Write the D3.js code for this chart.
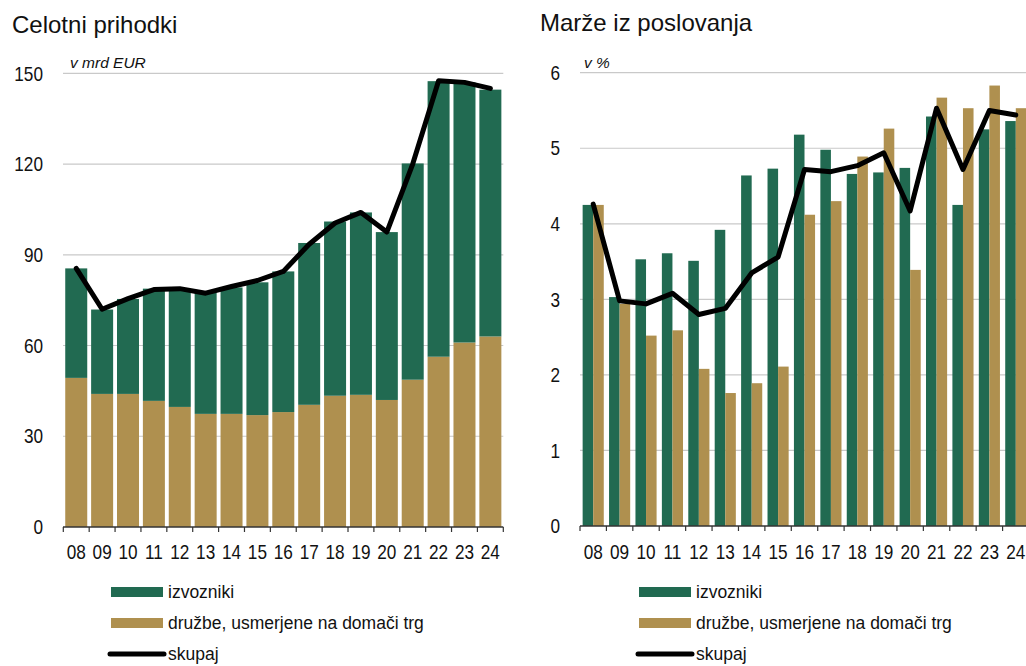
<!DOCTYPE html>
<html><head><meta charset="utf-8">
<script src="https://cdn.jsdelivr.net/npm/d3@7"></script>
<style>
body{margin:0;background:#fff;}
svg{display:block;}
.tick-lbl{font-family:"Liberation Sans",Arial,sans-serif;font-size:20px;fill:#111;}
.title{font-family:"Liberation Sans",Arial,sans-serif;font-size:24px;fill:#111;}
.unit{font-family:"Liberation Sans",Arial,sans-serif;font-size:15.5px;font-style:italic;fill:#111;}
.leg{font-family:"Liberation Sans",Arial,sans-serif;font-size:17.5px;fill:#111;}
</style></head>
<body><svg id="c" width="1026" height="666"></svg>
<script>
const years = ["08","09","10","11","12","13","14","15","16","17","18","19","20","21","22","23","24"];
// Celotni prihodki (v mrd EUR)
const revDomestic = [49.3,44.0,44.0,41.7,39.7,37.4,37.4,37.0,38.0,40.4,43.4,43.7,42.0,48.7,56.3,61.0,63.0];
const revTotal    = [85.5,71.9,75.4,78.8,78.6,77.6,79.2,80.9,84.5,93.9,101.0,104.0,97.5,120.2,147.4,147.0,144.6];
const revExporters = revTotal.map((t,i)=>+(t-revDomestic[i]).toFixed(1));
const revLine     = [85.5,72.0,75.5,78.5,78.8,77.3,79.5,81.5,84.5,93.5,100.5,104.0,97.5,120.0,147.5,147.0,145.0];
const revTicks = [0,30,60,90,120,150];
// Marže iz poslovanja (v %)
const marExporters = [4.25,3.03,3.53,3.61,3.51,3.92,4.64,4.73,5.18,4.98,4.66,4.68,4.74,5.42,4.25,5.25,5.36];
const marDomestic  = [4.25,2.94,2.52,2.59,2.08,1.76,1.89,2.11,4.12,4.30,4.89,5.26,3.39,5.67,5.53,5.83,5.53];
const marTotal     = [4.26,2.98,2.94,3.08,2.80,2.88,3.35,3.56,4.72,4.69,4.77,4.94,4.17,5.53,4.72,5.50,5.44];
const marTicks = [0,1,2,3,4,5,6];
const legendLabels = ["izvozniki","družbe, usmerjene na domači trg","skupaj"];

const GREEN = "#216a51", TAN = "#af904f", GRID = "#c9c9c9";
const NARROW = 0.86;
const svg = d3.select("#c");

function frame(g, x, y, ticks, x0, x1){
  g.append("g").selectAll("line").data(ticks.filter(t=>t!==0)).join("line")
    .attr("x1",x0).attr("x2",x1).attr("y1",d=>y(d)).attr("y2",d=>y(d))
    .attr("stroke",GRID).attr("stroke-width",1.2);
}
function axes(g, x, y, ticks, x0, x1, labelX){
  g.append("g").selectAll("text").data(ticks).join("text").attr("class","tick-lbl")
    .attr("transform",d=>`translate(${labelX},${y(d)}) scale(${NARROW},1)`)
    .attr("dy","0.36em").attr("text-anchor","end").text(d=>d);
  const y0 = y(0);
  g.append("line").attr("x1",x0).attr("x2",x1).attr("y1",y0).attr("y2",y0).attr("stroke","#333").attr("stroke-width",1.3);
  const bounds = years.map(d=>x(d)).concat([x(years[years.length-1])+x.step()]);
  g.append("g").selectAll("line").data(bounds).join("line")
    .attr("x1",d=>d).attr("x2",d=>d).attr("y1",y0).attr("y2",y0+5).attr("stroke","#333").attr("stroke-width",1.2);
  g.append("g").selectAll("text").data(years).join("text").attr("class","tick-lbl")
    .attr("transform",d=>`translate(${x(d)+x.step()/2},559) scale(${NARROW},1)`)
    .attr("text-anchor","middle").text(d=>d);
}
function legend(g, lx, ly){
  const cols=[GREEN,TAN];
  [0,1].forEach(i=>{
    g.append("rect").attr("x",lx).attr("y",ly+i*31-5).attr("width",52).attr("height",10).attr("fill",cols[i]);
  });
  g.append("line").attr("x1",lx-1).attr("x2",lx+53).attr("y1",ly+62).attr("y2",ly+62)
    .attr("stroke","#000").attr("stroke-width",5).attr("stroke-linecap","round");
  legendLabels.forEach((t,i)=>{
    g.append("text").attr("class","leg").attr("x",lx+57).attr("y",ly+i*31+6).text(t);
  });
}

// ---------- Left chart ----------
{
  const g = svg.append("g");
  const x = d3.scaleBand().domain(years).range([63.3,503.3]).padding(0);
  const xb = d3.scaleBand().domain(years).range([63.3,503.3]).paddingInner(0.15).paddingOuter(0.075);
  const y = d3.scaleLinear().domain([0,150]).range([527,73.3]);
  frame(g,x,y,revTicks,63,503.3);
  const stack = d3.stack().keys(["dom","exp"])(years.map((d,i)=>({year:d,dom:revDomestic[i],exp:revExporters[i]})));
  const cols = [TAN,GREEN];
  stack.forEach((s,k)=>{
    g.append("g").selectAll("rect").data(s).join("rect")
      .attr("x",d=>xb(d.data.year)).attr("width",xb.bandwidth())
      .attr("y",d=>y(d[1])).attr("height",d=>y(d[0])-y(d[1])).attr("fill",cols[k]);
  });
  axes(g,x,y,revTicks,63,503.3,43);
  g.append("path").datum(revLine).attr("fill","none").attr("stroke","#000").attr("stroke-width",5)
    .attr("stroke-linejoin","round").attr("stroke-linecap","round")
    .attr("d",d3.line().x((d,i)=>x(years[i])+x.step()/2).y(d=>y(d)));
  g.append("text").attr("class","title").attr("x",12).attr("y",33).text("Celotni prihodki");
  g.append("text").attr("class","unit").attr("x",70).attr("y",68).text("v mrd EUR");
  legend(g,111,592);
}

// ---------- Right chart ----------
{
  const g = svg.append("g");
  const x = d3.scaleBand().domain(years).range([580,1029]).padding(0);
  const xb = d3.scaleBand().domain(years).range([580,1029]).paddingInner(0.2).paddingOuter(0.1);
  const xs = d3.scaleBand().domain(["exp","dom"]).range([0,xb.bandwidth()]);
  const y = d3.scaleLinear().domain([0,6]).range([526,72.7]);
  frame(g,x,y,marTicks,580,1026);
  const rows = years.map((d,i)=>({year:d,exp:marExporters[i],dom:marDomestic[i]}));
  const cols = {exp:GREEN,dom:TAN};
  ["exp","dom"].forEach(k=>{
    g.append("g").selectAll("rect").data(rows).join("rect")
      .attr("x",d=>xb(d.year)+xs(k)).attr("width",xs.bandwidth())
      .attr("y",d=>y(d[k])).attr("height",d=>y(0)-y(d[k])).attr("fill",cols[k]);
  });
  axes(g,x,y,marTicks,580,1029,560);
  g.append("path").datum(marTotal).attr("fill","none").attr("stroke","#000").attr("stroke-width",5)
    .attr("stroke-linejoin","round").attr("stroke-linecap","round")
    .attr("d",d3.line().x((d,i)=>x(years[i])+x.step()/2).y(d=>y(d)));
  g.append("text").attr("class","title").attr("x",540).attr("y",31).text("Marže iz poslovanja");
  g.append("text").attr("class","unit").attr("x",584).attr("y",68).text("v %");
  legend(g,639,592);
}
</script></body></html>
